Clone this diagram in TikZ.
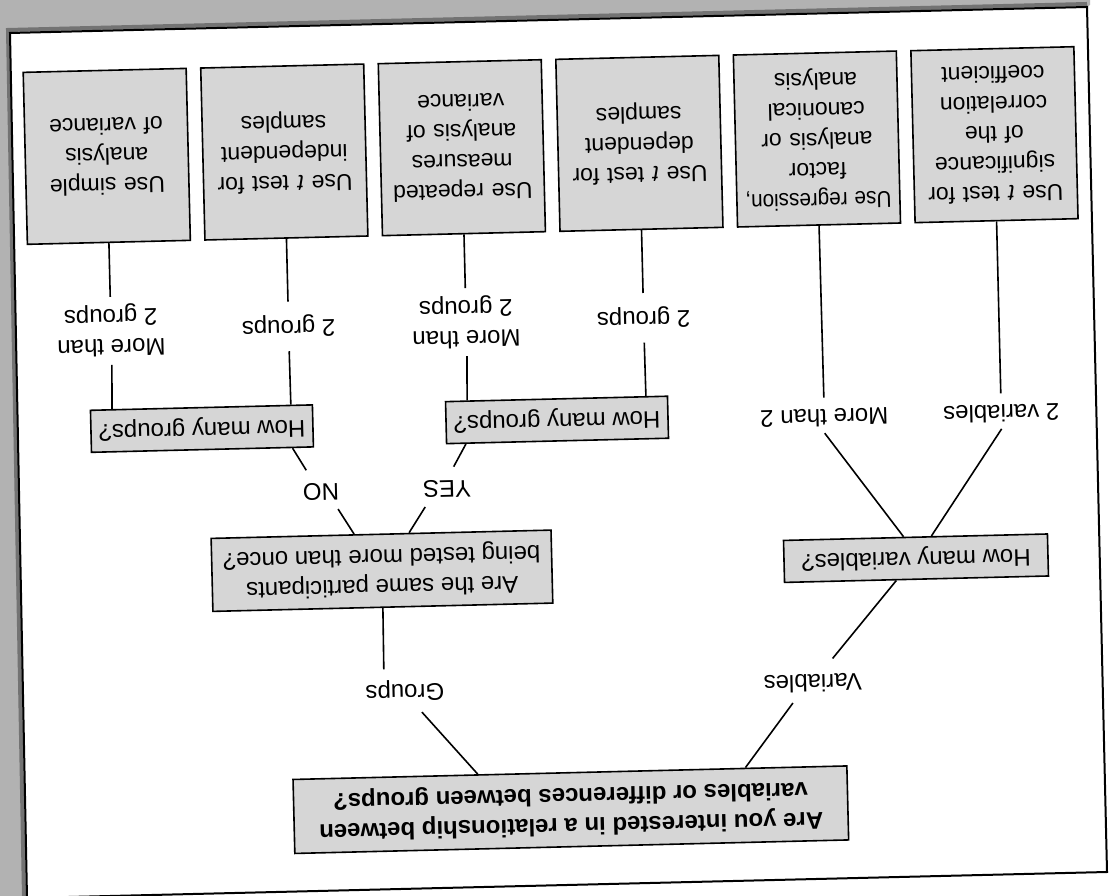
\documentclass[tikz,border=0pt]{standalone}
\usepackage{fontspec}
\usepackage{graphicx}
\setmainfont{Liberation Sans}
\usetikzlibrary{calc}
\definecolor{boxgray}{gray}{0.84}
\definecolor{scangray}{gray}{0.70}
\begin{document}
\begin{tikzpicture}[x=1pt,y=1pt,line width=1.6pt,
  box/.style={draw=black, fill=boxgray, line width=1.6pt, inner sep=4pt, align=center,
    font=\fontsize{24}{30}\selectfont, transform shape},
  leaf/.style={box, font=\fontsize{23}{30}\selectfont, text width=155pt, minimum height=172pt},
  quest/.style={box, minimum height=42pt},
  lbl/.style={align=center, font=\fontsize{24}{30}\selectfont, inner xsep=1pt, inner ysep=8pt, transform shape},
  one/.style={text height=17pt, text depth=5pt}
]
\useasboundingbox (0,0) rectangle (1110,896);
% scanned page background
\fill[white] (0,0) rectangle (1110,896);
\fill[scangray] (0,0) -- (0,896) -- (1090,896) -- (1090,891) -- (1087,889) -- (10,863) -- (27,-2) -- cycle;
\draw[black!55, line width=4pt] (1087,892) -- (8,866) -- (24,-2);
\draw[line width=2pt] (10,863) -- (1087,889) -- (1107,24) -- (27,-2) -- cycle;

\begin{scope}[rotate around={181.4:(555,448)}]
  % leaves
  \node[leaf] (leafA) at (108,145.5) {Use \textit{t} test for\\significance\\of the\\correlation\\coefficient};
  \node[leaf] (leafB) at (285.6,145.5) {\scalebox{0.9}[1]{Use regression,}\\factor\\analysis or\\canonical\\analysis};
  \node[leaf] (leafC) at (463.2,145.5) {Use \textit{t} test for\\dependent\\samples};
  \node[leaf] (leafD) at (640.8,145.5) {Use repeated\\measures\\analysis of\\variance};
  \node[leaf] (leafE) at (818.4,145.5) {Use \textit{t} test for\\independent\\samples};
  \node[leaf] (leafF) at (996,145.5) {Use simple\\analysis\\of variance};
  % branch labels
  \node[lbl, one, inner ysep=6pt] (lA) at (108,422) {2 variables};
  \node[lbl, one, inner ysep=6pt] (lB) at (285,422) {More than 2};
  \node[lbl, one, inner ysep=13pt] (lC) at (463.2,320) {2 groups};
  \node[lbl, inner ysep=7pt] (lD) at (640.8,320) {More than\\2 groups};
  \node[lbl, one, inner ysep=13pt] (lE) at (818.4,320) {2 groups};
  \node[lbl, inner ysep=7pt] (lF) at (996,320) {More than\\2 groups};
  % questions
  \node[quest, minimum width=222pt] (hmgM) at (552.3,420) {How many groups?};
  \node[quest, minimum width=222pt] (hmgL) at (907.5,420) {How many groups?};
  \node[quest, minimum width=264pt] (hmv) at (196.8,567) {How many variables?};
  \node[box, minimum width=340pt, minimum height=73pt] (sp) at (731,566.5) {Are the same participants\\being tested more than once?};
  \node[box, font=\fontsize{24}{30}\selectfont\bfseries, minimum width=554pt, minimum height=74pt] (root) at (548,810)
    {Are you interested in a relationship between\\variables or differences between groups?};
  % mid labels
  \node[lbl, one] (yes) at (664,484) {YES};
  \node[lbl, one] (no) at (790,484) {NO};
  \node[lbl, one, inner ysep=10pt] (grp) at (711,687) {Groups};
  \node[lbl, one, inner ysep=10pt] (var) at (303,687) {Variables};
  % connectors
  \draw ($(root.south west)!0.666!(root.south east)$) -- ($(grp.north west)!0.30!(grp.north east)$);
  \draw ($(grp.south west)!0.75!(grp.south east)$) -- (sp.north);
  \draw ($(root.south west)!0.184!(root.south east)$) -- ($(var.north west)!0.70!(var.north east)$);
  \draw ($(var.south west)!0.30!(var.south east)$) -- ($(hmv.north west)!0.576!(hmv.north east)$);
  \draw ($(hmv.south west)!0.44!(hmv.south east)$) -- (lA.north);
  \draw ($(hmv.south west)!0.545!(hmv.south east)$) -- (lB.north);
  \draw (lA.south) -- (leafA.north);
  \draw (lB.south) -- (leafB.north);
  \draw ($(sp.south west)!0.418!(sp.south east)$) -- ($(yes.north west)!0.93!(yes.north east)$);
  \draw ($(yes.south west)!0.36!(yes.south east)$) -- ($(hmgM.north west)!0.91!(hmgM.north east)$);
  \draw ($(sp.south west)!0.579!(sp.south east)$) -- ($(no.north west)!0.08!(no.north east)$);
  \draw ($(no.south west)!0.86!(no.south east)$) -- ($(hmgL.north west)!0.097!(hmgL.north east)$);
  \draw ($(hmgM.south west)!0.1!(hmgM.south east)$) -- (lC.north);
  \draw (lC.south) -- (leafC.north);
  \draw ($(hmgM.south west)!0.9!(hmgM.south east)$) -- (lD.north);
  \draw (lD.south) -- (leafD.north);
  \draw ($(hmgL.south west)!0.1!(hmgL.south east)$) -- (lE.north);
  \draw (lE.south) -- (leafE.north);
  \draw ($(hmgL.south west)!0.9!(hmgL.south east)$) -- (lF.north);
  \draw (lF.south) -- (leafF.north);
\end{scope}
\end{tikzpicture}
\end{document}
